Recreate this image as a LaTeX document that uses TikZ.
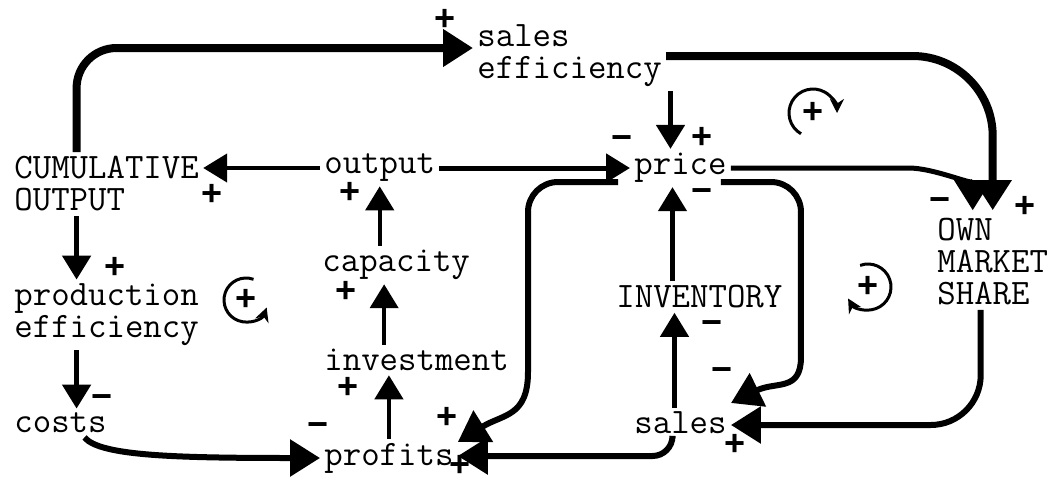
\documentclass[tikz,border=0pt]{standalone}
\usepackage{fontspec}
\usepackage{tikz}
\usetikzlibrary{arrows.meta}
\newfontfamily\signfont{Liberation Sans}
\tikzset{
    var-box/.style = {font=\ttfamily\fontsize{17.9}{16}\selectfont, inner sep=2pt, anchor=west, align=left},
    sign/.style = {font=\signfont\bfseries\fontsize{18}{18}\selectfont, inner sep=0pt},
    link/.style = {line width=2.2pt, -{Triangle[length=12pt,width=14pt]}},
    heavy-link/.style = {line width=3pt, -{Triangle[length=15pt,width=18pt]}},
    loop-arc/.style = {line width=1.5pt, -{Stealth[length=7pt,width=7pt]}},
}

\begin{document}
\begin{tikzpicture}[x=0.5pt, y=-0.5pt]
\useasboundingbox (0,0) rectangle (1055,483);
% variables
\node [var-box] (seff) at (473,56) {sales\\efficiency};
\node [var-box] (cum) at (10,184) {CUMULATIVE\\OUTPUT};
\node [var-box] (out) at (320,168) {output};
\node [var-box] (price) at (630,168) {price};
\node [var-box] (share) at (933,262) {OWN\\MARKET\\SHARE};
\node [var-box] (cap) at (318,265) {capacity};
\node [var-box] (prod) at (10,315) {production\\efficiency};
\node [var-box] (inv) at (612,297) {INVENTORY};
\node [var-box] (invest) at (320,360) {investment};
\node [var-box] (costs) at (10,423) {costs};
\node [var-box] (profits) at (320,458) {profits};
\node [var-box] (sales) at (630,423) {sales};

% links
\draw [heavy-link, line width=4pt, rounded corners=20pt] ([xshift=-15pt]cum.north) |- ([yshift=4pt]seff.west);
\draw [link] (out.west) -- (out.west -| cum.east);
\draw [link, line width=2.5pt] (out.east) -- (price.west);
\draw [link, line width=2.5pt] ([xshift=-5pt]price.north |- seff.south) -- ([xshift=-5pt]price.north);
\draw [heavy-link, line width=2.5pt] (price.east) -- ([xshift=-42pt]share.north |- price.east) .. controls +(25,0) and +(0,-25) .. ([xshift=-10pt, yshift=2pt]share.north);
\draw [heavy-link, line width=4pt, rounded corners=40pt] (seff.east) -| ([yshift=2pt]share.north);
\draw [link] (cap.north -| out.south) -- (out.south);
\draw [link] ([xshift=-6pt]cap.south |- invest.north) -- ([xshift=-6pt]cap.south);
\draw [link] (profits.north) -- (profits.north |- invest.south);
\draw [heavy-link] ([xshift=12pt]costs.south) .. controls +(15,18) and +(-150,0) .. (profits.west);
\draw [link, line width=2.5pt] ([xshift=-15pt]prod.south) -- ([xshift=-15pt]prod.south |- costs.north);
\draw [link, line width=2.5pt] ([xshift=-15pt]cum.south) -- ([xshift=-15pt]cum.south |- prod.north);
\draw [heavy-link, rounded corners=10pt] ([xshift=-4pt]sales.south) |- ([yshift=1pt]profits.east);
\draw [heavy-link, rounded corners=15pt] ([xshift=-6pt, yshift=-7pt]price.west) -- ++(-90,0) -- ++(0,160) [sharp corners] .. controls +(0,75) and +(45,-28) .. ([yshift=8pt]profits.east);
\draw [link] ([xshift=-4pt]price.south |- inv.north) -- ([xshift=-4pt]price.south);
\draw [link] ([xshift=-3pt]sales.north) -- ([xshift=-3pt]sales.north |- inv.south);
\draw [heavy-link, rounded corners=15pt] ([xshift=-5pt, yshift=-7pt]price.east) -- ++(80,0) -- ++(0,145) [sharp corners] .. controls +(0,65) and +(45,-22) .. ([yshift=10pt]sales.east);
\draw [heavy-link, rounded corners=25pt] ([xshift=-6pt]share.south) |- ([yshift=-1pt]sales.east);

% signs
\node [sign] (p-seff) at (445,20) {+};
\node [sign] (p-cum) at (212,195) {+};
\node [sign] (p-out) at (350,193) {+};
\node [sign] (m-price-l) at (622,143) {−};
\node [sign] (p-price) at (702,138) {+};
\node [sign] (m-price-b) at (702,196) {−};
\node [sign] (m-share) at (940,205) {−};
\node [sign] (p-share) at (1025,207) {+};
\node [sign] (p-cap) at (346,292) {+};
\node [sign] (p-prod) at (115,268) {+};
\node [sign] (p-invest) at (348,388) {+};
\node [sign] (m-costs) at (102,402) {−};
\node [sign] (m-profits) at (318,430) {−};
\node [sign] (p-profits-t) at (447,418) {+};
\node [sign] (p-profits-b) at (460,466) {+};
\node [sign] (m-inv) at (712,328) {−};
\node [sign] (m-sales) at (722,375) {−};
\node [sign] (p-sales) at (735,445) {+};

% loop markers
\node [sign] (loop-a) at (813,113) {+};
\draw [loop-arc] ([shift={(240:12pt)}]loop-a.center) arc[start angle=240, end angle=0, radius=12pt];
\node [sign] (loop-b) at (246,300) {+};
\draw [loop-arc] ([shift={(70:11pt)}]loop-b.center) arc[start angle=70, end angle=340, radius=11pt];
\node [sign] (loop-c) at (868,287) {+};
\draw [loop-arc] ([shift={(110:11.5pt)}]loop-c.center) arc[start angle=110, end angle=-150, radius=11.5pt];
\end{tikzpicture}
\end{document}
